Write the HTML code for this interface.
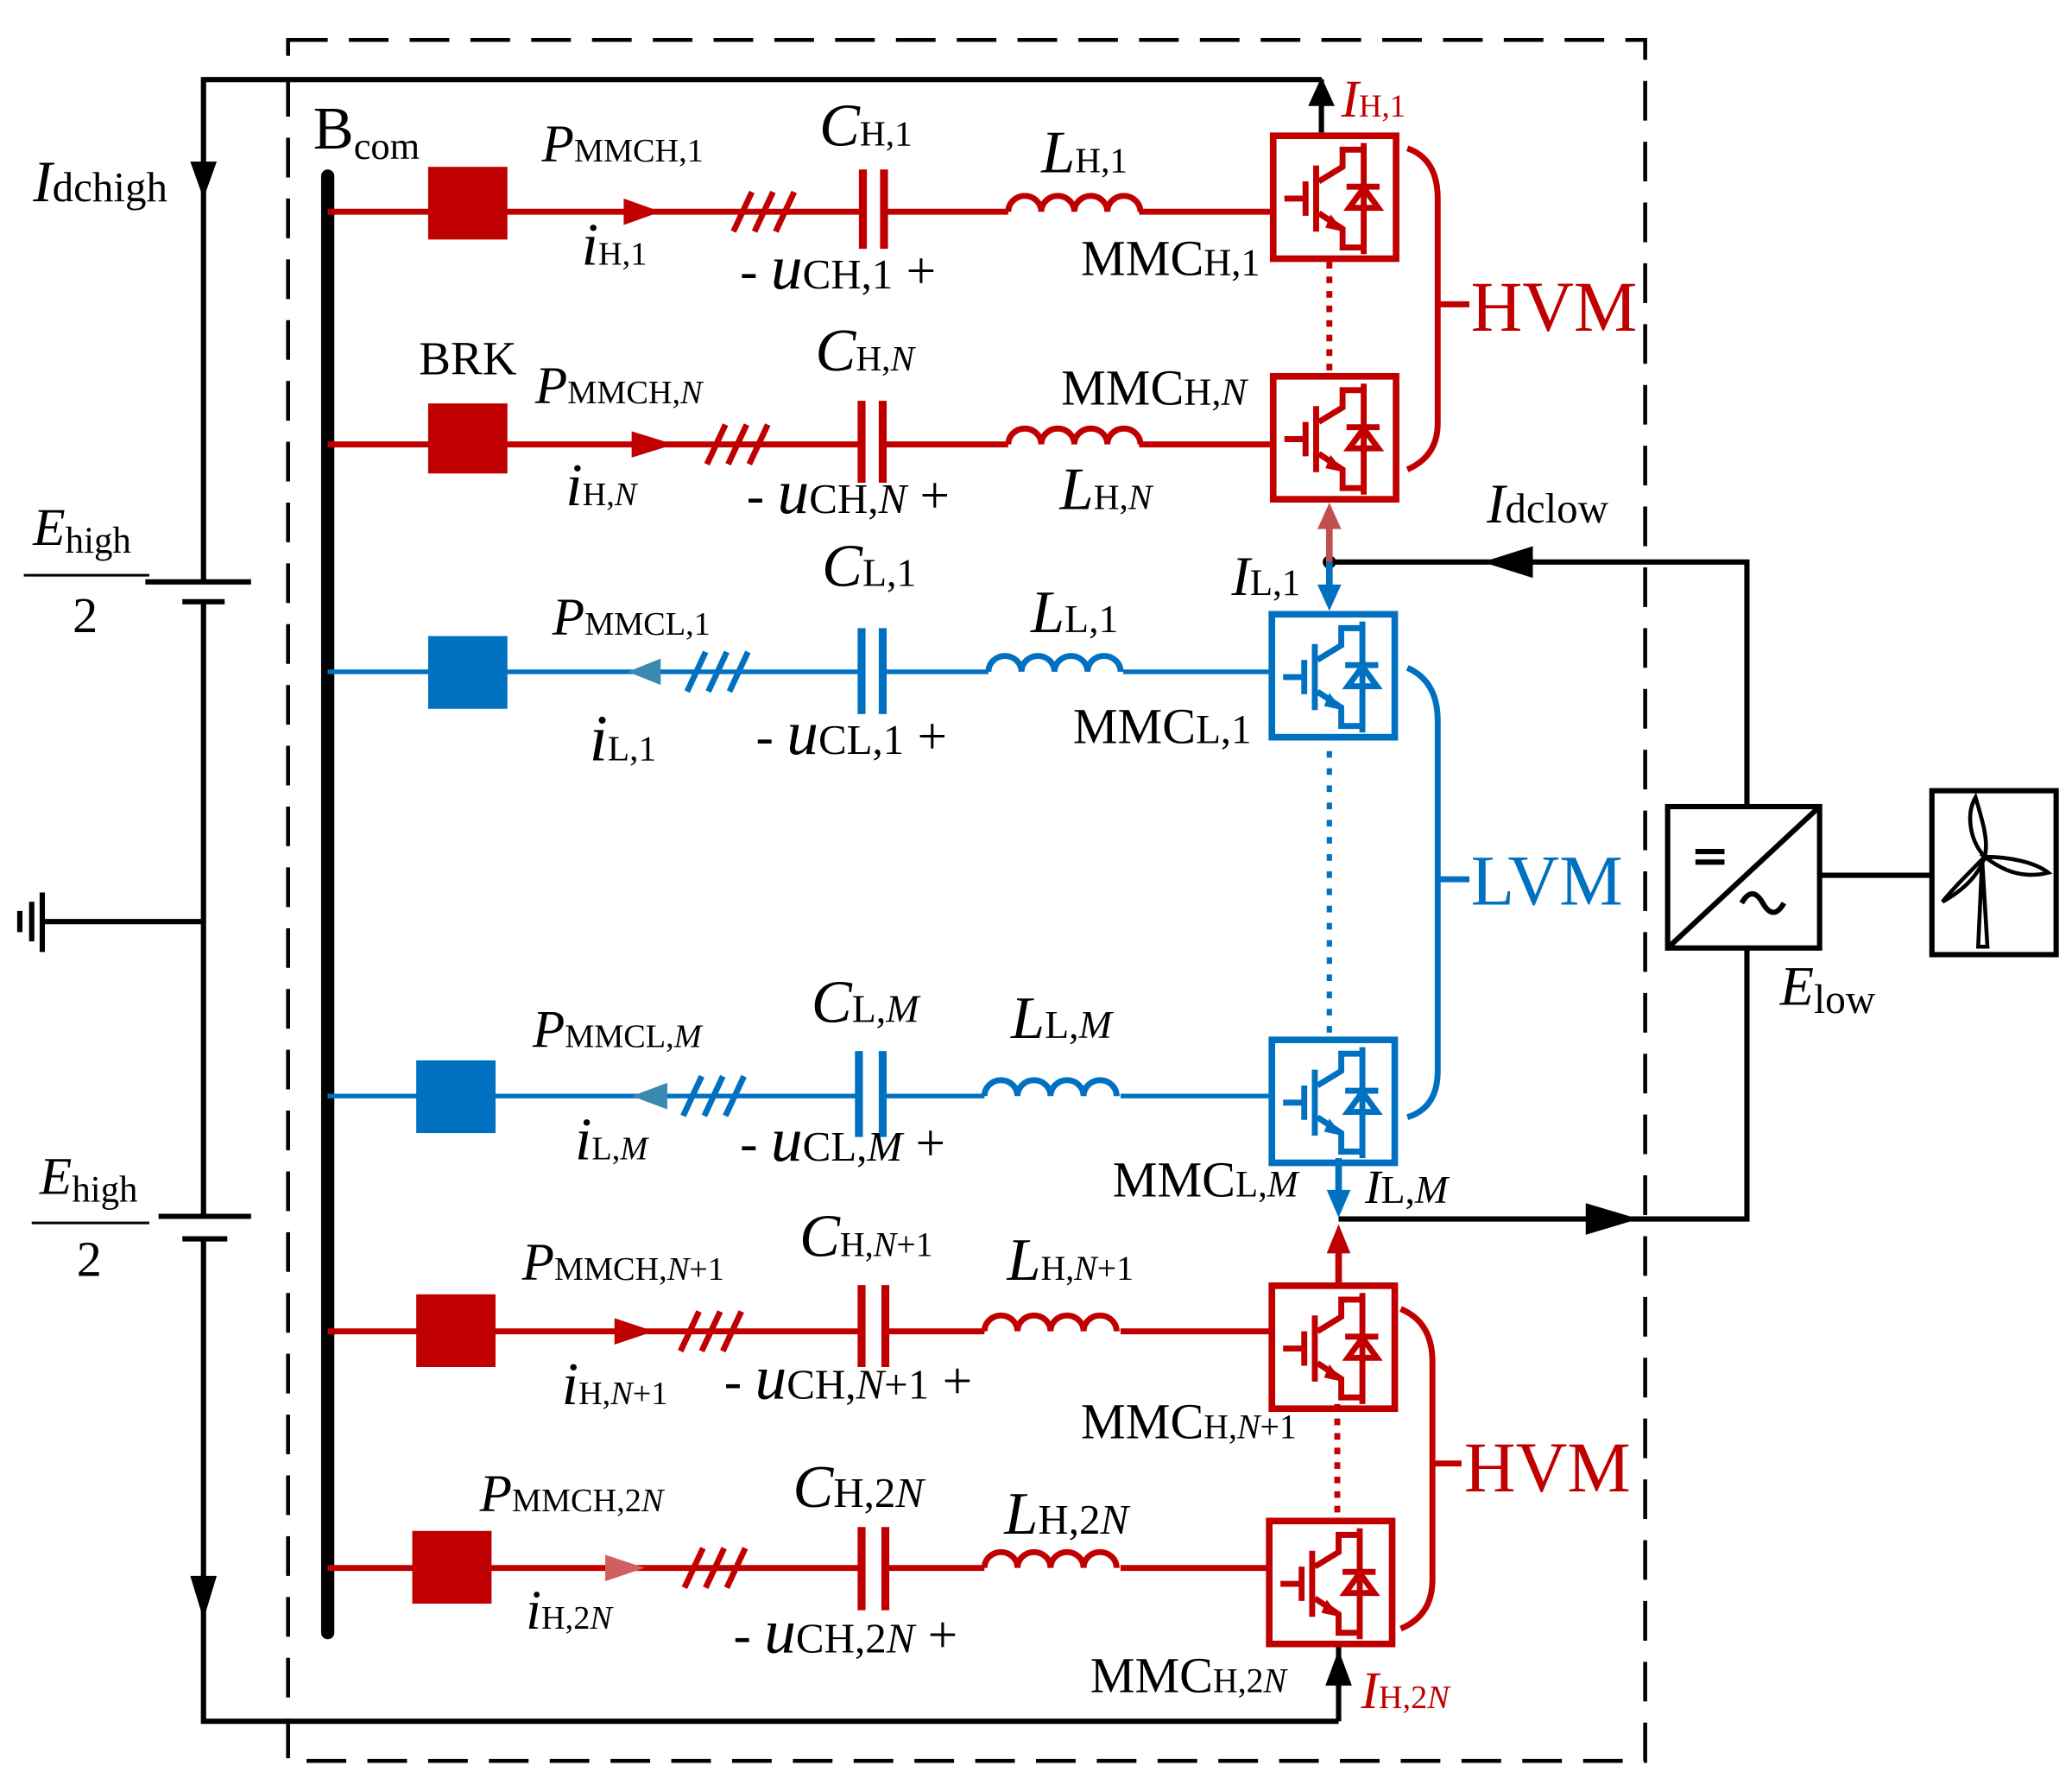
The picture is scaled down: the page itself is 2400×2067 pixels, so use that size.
<!DOCTYPE html>
<html><head><meta charset="utf-8"><style>
html,body{margin:0;padding:0;background:#fff}
svg{display:block}
text{font-family:"Liberation Serif",serif}
.r{color:#c00000}.b{color:#0070c0}
</style></head><body>
<svg width="2400" height="2067" viewBox="0 0 1568 1350" xmlns="http://www.w3.org/2000/svg">
<defs>
<g id="m" fill="none" stroke="currentColor">
<rect x="2.5" y="2.5" width="93" height="93" stroke-width="5"/>
<path d="M11,50 H26 M27,37 V63 M35,25 V75 M37,37 L55,26 V13 H71 M37,61 L55,73 V87 H71 M71,8 V92 M58,41 H83" stroke-width="4.5"/>
<polygon points="71,42 60,57 82,57" stroke-width="4.5"/>
<polygon points="56,75 46,62 42,72" fill="currentColor" stroke="none"/>
</g>
<g id="ind" fill="none" stroke="currentColor" stroke-width="4.5">
<path d="M0,0 a12.5,12 0 0 1 25,0 a12.5,12 0 0 1 25,0 a12.5,12 0 0 1 25,0 a12.5,12 0 0 1 25,0"/>
</g>
<g id="sl" stroke="currentColor" stroke-width="4.5">
<path d="M0,15 L14,-15 M16,15 L30,-15 M32,15 L46,-15"/>
</g>
</defs>

<rect x="218" y="30" width="1027" height="1302" fill="none" stroke="#000" stroke-width="3" stroke-dasharray="30,16"/>

<g stroke="#000" stroke-width="4" fill="none">
<path d="M154,440 V60 H1000 M154,455 V920 M154,937 V1302 H1013"/>
<path d="M110,440 H190 M138,455 H170 M120,920 H190 M138,937 H172" stroke-width="4"/>
<path d="M32,697 H154 M32,675 V720 M24,682 V712 M15,689 V705"/>
<path d="M1000,100 V60 M1013,1245 V1302"/>
<path d="M18,435 H113 M24,925 H113" stroke-width="2"/>
</g>
<polygon points="144,122 164,122 154,150" fill="#000"/>
<polygon points="144,1192 164,1192 154,1225" fill="#000"/>
<polygon points="990,80 1010,80 1000,58" fill="#000"/>
<polygon points="1003,1275 1023,1275 1013,1248" fill="#000"/>
<line x1="248" y1="133" x2="248" y2="1235" stroke="#000" stroke-width="10" stroke-linecap="round"/>

<g stroke="#000" stroke-width="4" fill="none">
<path d="M1006,425 H1322 V610 M1322,717 V922 H1013 M1377,662 H1462"/>
<rect x="1262" y="610" width="115" height="107"/>
<path d="M1262,717 L1377,610"/>
<path d="M1283,644 H1305 M1283,652 H1305"/>
<path d="M1318,683 q8,-14 16,0 t16,0" />
<rect x="1462" y="598" width="94" height="124"/>
<path d="M1497,716 L1500,650 L1504,716 Z" stroke-width="3"/>
<path d="M1502,648 C1490,635 1488,615 1495,603 C1500,620 1505,635 1502,648 Z M1502,648 C1520,648 1540,652 1550,660 C1530,665 1515,658 1502,648 Z M1502,648 C1490,660 1478,672 1470,682 C1488,672 1498,660 1502,648 Z" stroke-width="3"/>
</g>
<polygon points="1160,413 1160,437 1122,425" fill="#000"/>
<polygon points="1200,910 1200,934 1240,922" fill="#000"/>
<circle cx="1006" cy="425" r="5" fill="#000"/>
<line x1="1006" y1="425" x2="1006" y2="395" stroke="#c0504d" stroke-width="5"/>
<polygon points="997,400 1015,400 1006,380" fill="#c0504d"/>
<line x1="1006" y1="425" x2="1006" y2="448" stroke="#0070c0" stroke-width="5"/>
<polygon points="997,442 1015,442 1006,462" fill="#0070c0"/>
<line x1="1013" y1="876" x2="1013" y2="905" stroke="#0070c0" stroke-width="5"/>
<polygon points="1004,900 1022,900 1013,921" fill="#0070c0"/>
<line x1="1013" y1="970" x2="1013" y2="945" stroke="#c00000" stroke-width="5"/>
<polygon points="1004,948 1022,948 1013,926" fill="#c00000"/>

<g class="r" stroke="currentColor" fill="none" stroke-width="4.5">
<path d="M248,160 H653 M669,160 H763 M862,160 H962"/>
<path d="M653,128 V188 M669,128 V188" stroke-width="6"/>
<path d="M248,336 H652 M668,336 H763 M862,336 H962"/>
<path d="M652,303 V365 M668,303 V365" stroke-width="6"/>
<path d="M248,1007 H652 M670,1007 H745 M848,1007 H962"/>
<path d="M652,972 V1034 M670,972 V1034" stroke-width="6"/>
<path d="M248,1186 H652 M670,1186 H745 M848,1186 H962"/>
<path d="M652,1155 V1218 M670,1155 V1218" stroke-width="6"/>
<path d="M1006,198 V282 M1012,1062 V1150" stroke-dasharray="5,6"/>
<path d="M1065,112 Q1088,120 1088,150 V320 Q1088,345 1065,355 M1088,230 H1112"/>
<path d="M1060,990 Q1084,1000 1084,1030 V1195 Q1084,1222 1060,1232 M1084,1107 H1106"/>
</g>
<g class="b" stroke="currentColor" fill="none" stroke-width="3.5">
<path d="M248,508 H652 M668,508 H748 M850,508 H960"/>
<path d="M652,475 V540 M668,475 V540" stroke-width="6"/>
<path d="M248,829 H650 M668,829 H745 M848,829 H960"/>
<path d="M650,795 V860 M668,795 V860" stroke-width="6"/>
<path d="M1006,555 V786" stroke-dasharray="5,8" stroke-width="4"/>
<path d="M1065,505 Q1088,515 1088,545 V810 Q1088,838 1065,845 M1088,665 H1112" stroke-width="4.5"/>
</g>
<g fill="#c00000">
<rect x="324" y="126" width="60" height="55"/><rect x="324" y="305" width="60" height="53"/>
<rect x="315" y="979" width="60" height="55"/><rect x="312" y="1158" width="60" height="55"/>
<polygon points="472,150 472,170 500,160"/><polygon points="478,326 478,346 510,336"/>
<polygon points="465,997 465,1017 495,1007"/><polygon points="458,1176 458,1196 488,1186" fill="#d06060"/>
</g>
<g fill="#0070c0">
<rect x="324" y="481" width="60" height="55"/><rect x="315" y="802" width="60" height="55"/>
<polygon points="500,498 500,518 475,508" fill="#3a8ab0"/><polygon points="505,819 505,839 478,829" fill="#3a8ab0"/>
</g>
<use href="#sl" x="555" y="160" class="r"/>
<use href="#sl" x="535" y="336" class="r"/>
<use href="#sl" x="520" y="508" class="b"/>
<use href="#sl" x="517" y="829" class="b"/>
<use href="#sl" x="515" y="1007" class="r"/>
<use href="#sl" x="518" y="1186" class="r"/>
<use href="#ind" x="763" y="160" class="r"/>
<use href="#ind" x="763" y="336" class="r"/>
<use href="#ind" x="748" y="508" class="b"/>
<use href="#ind" x="745" y="829" class="b"/>
<use href="#ind" x="745" y="1007" class="r"/>
<use href="#ind" x="745" y="1186" class="r"/>
<use href="#m" x="961" y="100" class="r"/>
<use href="#m" x="961" y="282" class="r"/>
<use href="#m" x="960" y="462" class="b"/>
<use href="#m" x="960" y="784" class="b"/>
<use href="#m" x="960" y="970" class="r"/>
<use href="#m" x="958" y="1148" class="r"/>

<g font-size="40" fill="#000">
<text x="25" y="152"><tspan font-style="italic" font-size="44">I</tspan><tspan font-size="32">dchigh</tspan></text>
<text x="237" y="112" font-size="46">B<tspan font-size="29" dy="8">com</tspan></text>
<text x="25" y="412"><tspan font-style="italic">E</tspan><tspan font-size="28" dy="6">high</tspan></text>
<text x="55" y="478" font-size="38">2</text>
<text x="30" y="903"><tspan font-style="italic">E</tspan><tspan font-size="28" dy="6">high</tspan></text>
<text x="58" y="965" font-size="38">2</text>

<text x="410" y="122"><tspan font-style="italic">P</tspan><tspan font-size="25">MMCH,1</tspan></text>
<text x="440" y="200" font-size="46"><tspan font-style="italic">i</tspan><tspan font-size="25">H,1</tspan></text>
<text x="620" y="110" font-size="46"><tspan font-style="italic">C</tspan><tspan font-size="27">H,1</tspan></text>
<text x="560" y="218" font-size="40">- <tspan font-style="italic" font-size="48">u</tspan><tspan font-size="32">CH,1</tspan> +</text>
<text x="788" y="130" font-size="46"><tspan font-style="italic">L</tspan><tspan font-size="27">H,1</tspan></text>
<text x="818" y="208" font-size="38">MMC<tspan font-size="29">H,1</tspan></text>
<text x="1015" y="88" font-size="40" fill="#c00000"><tspan font-style="italic">I</tspan><tspan font-size="24">H,1</tspan></text>

<text x="317" y="283" font-size="36">BRK</text>
<text x="405" y="305"><tspan font-style="italic">P</tspan><tspan font-size="25">MMCH,<tspan font-style="italic">N</tspan></tspan></text>
<text x="617" y="280" font-size="46"><tspan font-style="italic">C</tspan><tspan font-size="27">H,<tspan font-style="italic">N</tspan></tspan></text>
<text x="428" y="382" font-size="46"><tspan font-style="italic">i</tspan><tspan font-size="25">H,<tspan font-style="italic">N</tspan></tspan></text>
<text x="565" y="388" font-size="40">- <tspan font-style="italic" font-size="48">u</tspan><tspan font-size="32">CH,<tspan font-style="italic">N</tspan></tspan> +</text>
<text x="803" y="306" font-size="38">MMC<tspan font-size="29">H,<tspan font-style="italic">N</tspan></tspan></text>
<text x="802" y="385" font-size="46"><tspan font-style="italic">L</tspan><tspan font-size="27">H,<tspan font-style="italic">N</tspan></tspan></text>
<text x="1125" y="395" font-size="42"><tspan font-style="italic">I</tspan><tspan font-size="32">dclow</tspan></text>

<text x="932" y="450" font-size="42"><tspan font-style="italic">I</tspan><tspan font-size="28">L,1</tspan></text>
<text x="622" y="443" font-size="46"><tspan font-style="italic">C</tspan><tspan font-size="30">L,1</tspan></text>
<text x="418" y="480"><tspan font-style="italic">P</tspan><tspan font-size="25">MMCL,1</tspan></text>
<text x="780" y="478" font-size="46"><tspan font-style="italic">L</tspan><tspan font-size="30">L,1</tspan></text>
<text x="446" y="575" font-size="50"><tspan font-style="italic">i</tspan><tspan font-size="27">L,1</tspan></text>
<text x="572" y="570" font-size="40">- <tspan font-style="italic" font-size="48">u</tspan><tspan font-size="32">CL,1</tspan> +</text>
<text x="812" y="562" font-size="38">MMC<tspan font-size="31">L,1</tspan></text>

<text x="1347" y="760" font-size="42"><tspan font-style="italic">E</tspan><tspan font-size="31" dy="6">low</tspan></text>

<text x="403" y="792"><tspan font-style="italic">P</tspan><tspan font-size="25">MMCL,<tspan font-style="italic">M</tspan></tspan></text>
<text x="614" y="773" font-size="46"><tspan font-style="italic">C</tspan><tspan font-size="30">L,<tspan font-style="italic">M</tspan></tspan></text>
<text x="765" y="785" font-size="46"><tspan font-style="italic">L</tspan><tspan font-size="30">L,<tspan font-style="italic">M</tspan></tspan></text>
<text x="435" y="877" font-size="46"><tspan font-style="italic">i</tspan><tspan font-size="25">L,<tspan font-style="italic">M</tspan></tspan></text>
<text x="560" y="878" font-size="40">- <tspan font-style="italic" font-size="48">u</tspan><tspan font-size="32">CL,<tspan font-style="italic">M</tspan></tspan> +</text>
<text x="842" y="905" font-size="38">MMC<tspan font-size="28">L,<tspan font-style="italic">M</tspan></tspan></text>
<text x="1033" y="910" font-size="36"><tspan font-style="italic">I</tspan><tspan font-size="30">L,<tspan font-style="italic">M</tspan></tspan></text>

<text x="395" y="968"><tspan font-style="italic">P</tspan><tspan font-size="25">MMCH,<tspan font-style="italic">N</tspan>+1</tspan></text>
<text x="605" y="950" font-size="46"><tspan font-style="italic">C</tspan><tspan font-size="26">H,<tspan font-style="italic">N</tspan>+1</tspan></text>
<text x="762" y="968" font-size="46"><tspan font-style="italic">L</tspan><tspan font-size="26">H,<tspan font-style="italic">N</tspan>+1</tspan></text>
<text x="425" y="1062" font-size="46"><tspan font-style="italic">i</tspan><tspan font-size="25">H,<tspan font-style="italic">N</tspan>+1</tspan></text>
<text x="548" y="1058" font-size="40">- <tspan font-style="italic" font-size="48">u</tspan><tspan font-size="32">CH,<tspan font-style="italic">N</tspan>+1</tspan> +</text>
<text x="818" y="1088" font-size="38">MMC<tspan font-size="26">H,<tspan font-style="italic">N</tspan>+1</tspan></text>

<text x="363" y="1143"><tspan font-style="italic">P</tspan><tspan font-size="25">MMCH,2<tspan font-style="italic">N</tspan></tspan></text>
<text x="600" y="1140" font-size="46"><tspan font-style="italic">C</tspan><tspan font-size="32">H,2<tspan font-style="italic">N</tspan></tspan></text>
<text x="760" y="1160" font-size="46"><tspan font-style="italic">L</tspan><tspan font-size="32">H,2<tspan font-style="italic">N</tspan></tspan></text>
<text x="398" y="1232" font-size="42"><tspan font-style="italic">i</tspan><tspan font-size="25">H,2<tspan font-style="italic">N</tspan></tspan></text>
<text x="555" y="1250" font-size="40">- <tspan font-style="italic" font-size="48">u</tspan><tspan font-size="32">CH,2<tspan font-style="italic">N</tspan></tspan> +</text>
<text x="825" y="1280" font-size="38">MMC<tspan font-size="26">H,2<tspan font-style="italic">N</tspan></tspan></text>
<text x="1030" y="1292" font-size="40" fill="#c00000"><tspan font-style="italic">I</tspan><tspan font-size="25">H,2<tspan font-style="italic">N</tspan></tspan></text>

<text x="1113" y="250" font-size="54" fill="#c00000">HVM</text>
<text x="1113" y="684" font-size="54" fill="#0070c0">LVM</text>
<text x="1108" y="1128" font-size="54" fill="#c00000">HVM</text>
</g>
</svg>
</body></html>
